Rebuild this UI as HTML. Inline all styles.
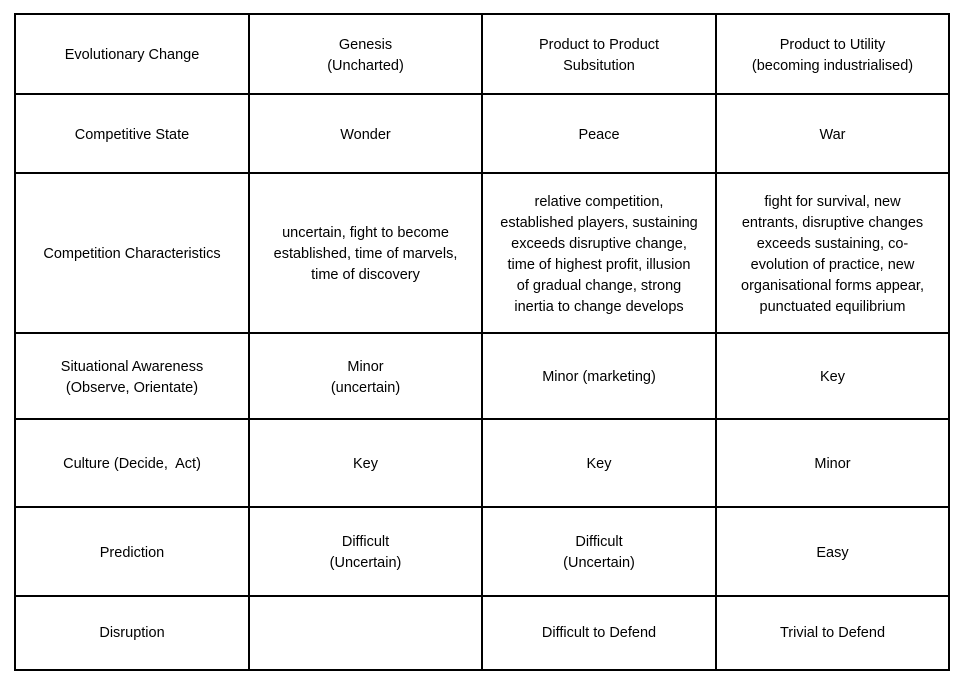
<!DOCTYPE html>
<html><head><meta charset="utf-8"><style>
body{margin:0;width:969px;height:684px;background:#fff;position:relative;overflow:hidden;font-family:"Liberation Sans",sans-serif;font-size:14.5px;color:#000}
.h,.v{position:absolute;background:#000}
.h{height:2px;left:14px;width:936px}
.v{width:2px;top:13px;height:658px}
.c{position:absolute;display:flex;align-items:center;justify-content:center;text-align:center;line-height:21px;padding-top:3px;box-sizing:border-box}
</style></head><body>
<div class="h" style="top:13px"></div><div class="h" style="top:93px"></div><div class="h" style="top:172px"></div><div class="h" style="top:332px"></div><div class="h" style="top:418px"></div><div class="h" style="top:506px"></div><div class="h" style="top:595px"></div><div class="h" style="top:669px"></div>
<div class="v" style="left:14px"></div><div class="v" style="left:248px"></div><div class="v" style="left:481px"></div><div class="v" style="left:715px"></div><div class="v" style="left:948px"></div>
<script>
var xs=[16,250,483,717,948],ys=[15,95,174,334,420,508,597,669];
var d=[
["Evolutionary Change","Genesis<br>(Uncharted)","Product to Product<br>Subsitution","Product to Utility<br>(becoming industrialised)"],
["Competitive State","Wonder","Peace","War"],
["Competition Characteristics","uncertain, fight to become<br>established, time of marvels,<br>time of discovery","relative competition,<br>established players, sustaining<br>exceeds disruptive change,<br>time of highest profit, illusion<br>of gradual change, strong<br>inertia to change develops","fight for survival, new<br>entrants, disruptive changes<br>exceeds sustaining, co-<br>evolution of practice, new<br>organisational forms appear,<br>punctuated equilibrium"],
["Situational Awareness<br>(Observe, Orientate)","Minor<br>(uncertain)","Minor (marketing)","Key"],
["Culture (Decide,&nbsp; Act)","Key","Key","Minor"],
["Prediction","Difficult<br>(Uncertain)","Difficult<br>(Uncertain)","Easy"],
["Disruption","","Difficult to Defend","Trivial to Defend"]];
for(var r=0;r<7;r++)for(var c=0;c<4;c++){var e=document.createElement('div');e.className='c';e.style.left=xs[c]+'px';e.style.width=(xs[c+1]-xs[c]-(c<3?2:0))+'px';e.style.top=ys[r]+'px';e.style.height=(ys[r+1]-ys[r]-2)+'px';e.innerHTML=d[r][c];document.body.appendChild(e);}
</script>
</body></html>
